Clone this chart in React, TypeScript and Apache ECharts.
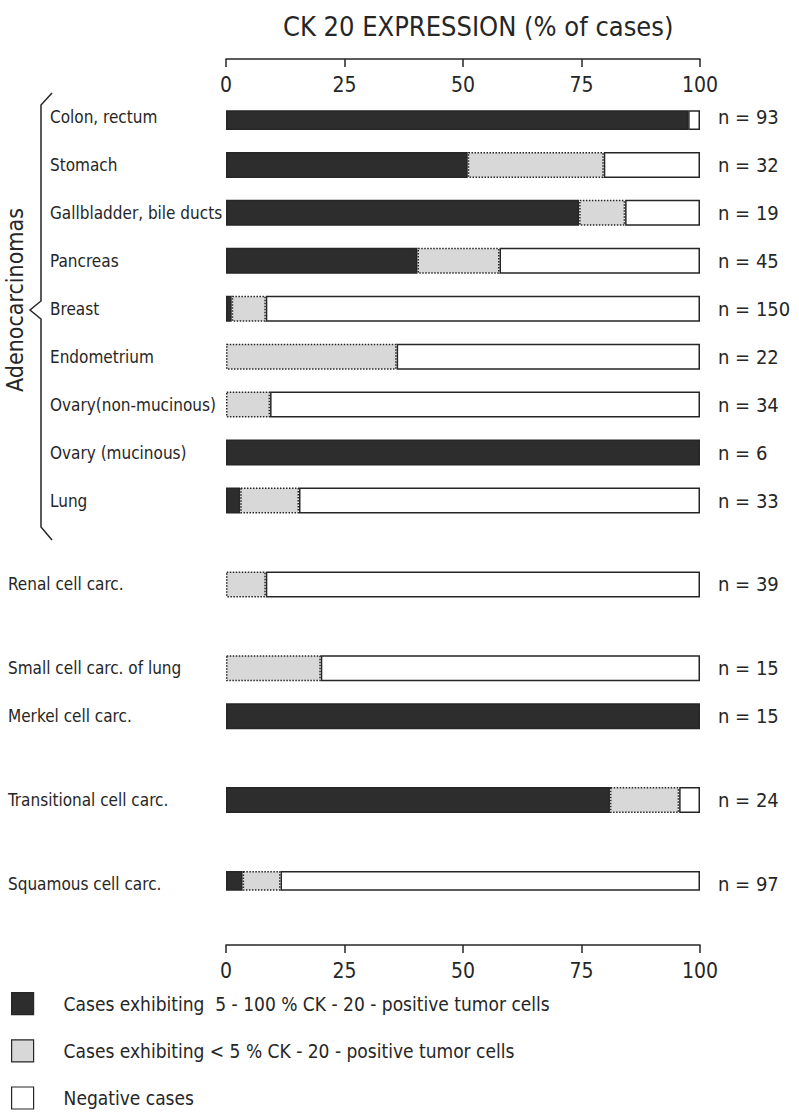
import React, { useEffect, useRef } from "react";
import * as echarts from "echarts";

const categories = [
  "Colon, rectum",
  "Stomach",
  "Gallbladder, bile ducts",
  "Pancreas",
  "Breast",
  "Endometrium",
  "Ovary(non-mucinous)",
  "Ovary (mucinous)",
  "Lung",
  "Renal cell carc.",
  "Small cell carc. of lung",
  "Merkel cell carc.",
  "Transitional cell carc.",
  "Squamous cell carc.",
];
const adenoCount = 9;
const caseCounts = [93, 32, 19, 45, 150, 22, 34, 6, 33, 39, 15, 15, 24, 97];
const positive = [97.5, 51, 74.5, 40.4, 1.2, 0, 0, 100, 3, 0, 0, 100, 81, 3.5];
const focal = [0, 28.7, 9.7, 17.3, 7.2, 36, 9.3, 0, 12.4, 8.4, 20, 0, 14.6, 8];
const negative = [2.5, 20.3, 15.8, 42.3, 91.6, 64, 90.7, 0, 84.6, 91.6, 80, 0, 4.4, 88.5];
const xTicks = [0, 25, 50, 75, 100];
const seriesNames = [
  "Cases exhibiting  5 - 100 % CK - 20 - positive tumor cells",
  "Cases exhibiting < 5 % CK - 20 - positive tumor cells",
  "Negative cases",
];

// layout: slot index of each row on a fine category grid (gaps between groups)
const rowSlots = [0, 4, 8, 12, 16, 20, 24, 28, 32, 39, 46, 50, 57, 64];
const slotCount = 65;

const FONT = '"DejaVu Sans Condensed", sans-serif';
const INK = "#262626";

export default function App() {
  const ref = useRef<HTMLDivElement>(null);
  useEffect(() => {
    document.body.style.margin = "0";
    const chart = echarts.init(ref.current!, null, { renderer: "svg" });
    const slotKeys = Array.from({ length: slotCount }, (_, i) => "s" + i);
    const rowOfSlot: Record<string, number> = {};
    rowSlots.forEach((s, r) => (rowOfSlot["s" + s] = r));
    const toSlots = (vals: number[]) => {
      const arr: any[] = Array.from({ length: slotCount }, () => "-");
      rowSlots.forEach((s, r) => (arr[s] = vals[r] === 0 ? "-" : vals[r]));
      return arr;
    };
    const colors = ["#2d2d2d", "#d8d8d8", "#ffffff"];
    const vals = [positive, focal, negative];
    const series = seriesNames.map((name, i) => ({
      name,
      type: "bar",
      stack: "all",
      xAxisIndex: 0,
      yAxisIndex: 0,
      barWidth: 26,
      data: toSlots(vals[i]),
      itemStyle: {
        color: colors[i],
        borderColor: INK,
        borderWidth: 1.5,
        borderType: i === 1 ? "dotted" : "solid",
      },
      emphasis: { disabled: true },
    }));
    const xCommon = {
      type: "value",
      min: 0,
      max: 100,
      interval: 25,
      splitLine: { show: false },
      axisLine: { show: true, lineStyle: { color: INK, width: 1.5 } },
      axisTick: { show: true, length: 8, lineStyle: { color: INK, width: 1.5 } },
    };
    chart.setOption({
      animation: false,
      backgroundColor: "#ffffff",
      textStyle: { fontFamily: FONT, color: INK },
      title: {
        text: "CK 20 EXPRESSION (% of cases)",
        left: 278,
        top: 8,
        textStyle: { fontFamily: FONT, fontSize: 27, fontWeight: "normal", color: INK },
      },
      grid: { left: 226, right: 99, top: 111, bottom: 1117 - 890, containLabel: false },
      xAxis: [
        {
          ...xCommon,
          position: "bottom",
          offset: 55,
          axisLabel: {
            fontFamily: FONT,
            fontSize: 21,
            color: INK,
            margin: 15,
            formatter: (v: number) => (xTicks.includes(v) ? String(v) : ""),
          },
        },
        {
          ...xCommon,
          position: "top",
          offset: 52,
          axisTick: { ...xCommon.axisTick, inside: true },
          axisLabel: {
            inside: true,
            fontFamily: FONT,
            fontSize: 21,
            color: INK,
            margin: 15,
            formatter: (v: number) => (xTicks.includes(v) ? String(v) : ""),
          },
        },
      ],
      yAxis: [
        {
          type: "category",
          data: slotKeys,
          inverse: true,
          axisLine: { show: false },
          axisTick: { show: false },
          axisLabel: {
            interval: 0,
            align: "left",
            margin: 218,
            formatter: (k: string) => {
              const r = rowOfSlot[k];
              if (r === undefined) return "";
              return (r < adenoCount ? "{a|" : "{b|") + categories[r] + "}";
            },
            rich: {
              a: { fontFamily: FONT, fontSize: 17, color: INK, padding: [0, 0, 0, 42] },
              b: { fontFamily: FONT, fontSize: 17, color: INK },
            },
          },
        },
        {
          type: "category",
          data: slotKeys,
          inverse: true,
          position: "right",
          axisLine: { show: false },
          axisTick: { show: false },
          axisLabel: {
            interval: 0,
            align: "left",
            margin: 18,
            fontFamily: FONT,
            fontSize: 20,
            color: INK,
            formatter: (k: string) => {
              const r = rowOfSlot[k];
              if (r === undefined) return "";
              return "n = " + caseCounts[r];
            },
          },
        },
      ],
      legend: {
        orient: "vertical",
        left: 11,
        top: 992,
        height: 125,
        padding: 0,
        itemWidth: 22,
        itemHeight: 22,
        itemGap: 24,
        icon: "rect",
        selectedMode: false,
        data: seriesNames.map((n, i) => ({
          name: n,
          itemStyle: { color: colors[i], borderColor: INK, borderWidth: 1.2 },
        })),
        textStyle: { fontFamily: FONT, fontSize: 19, color: INK, padding: [0, 0, 0, 25] },
      },
      graphic: [
        {
          type: "polyline",
          shape: {
            points: [
              [52, 93],
              [41, 105],
              [41, 301],
              [30, 310],
              [41, 319],
              [41, 527],
              [52, 540],
            ],
          },
          style: { stroke: INK, lineWidth: 1.5, fill: "none" },
        },
        {
          type: "text",
          x: 15,
          y: 300,
          rotation: Math.PI / 2,
          style: {
            text: "Adenocarcinomas",
            fontFamily: FONT,
            fontSize: 23,
            fill: INK,
            align: "center",
            verticalAlign: "middle",
          },
        },
      ],
      series,
    });
    return () => chart.dispose();
  }, []);
  return <div ref={ref} style={{ width: 799, height: 1117 }} />;
}
